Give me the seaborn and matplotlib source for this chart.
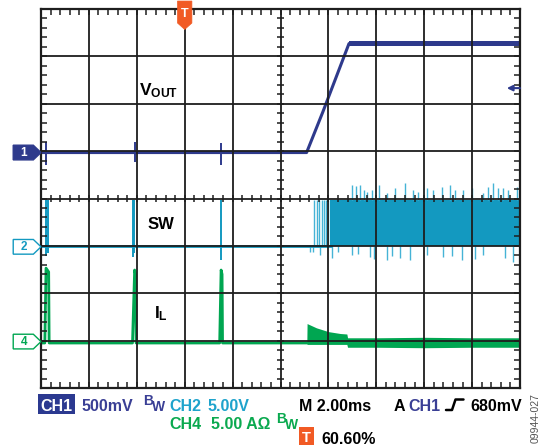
import numpy as np
import matplotlib
matplotlib.use('Agg')
import matplotlib.pyplot as plt
import seaborn as sns
from matplotlib.ticker import MultipleLocator
from matplotlib.patches import Polygon, Rectangle
from matplotlib.lines import Line2D
import matplotlib.transforms as mtrans

# ==========================================
# 1. Scope data (x in ms, y in screen divisions)
# ==========================================
# CH1 - VOUT
vout_t = [0, 11.09, 11.77, 12.86, 20]
vout_v = [4.97, 4.97, 5.83, 7.27, 7.27]
vout_band_t = [12.86, 20]
vout_band_hi = [7.33, 7.33]
vout_band_lo = [7.21, 7.21]
vout_spike_t = [0.20, 3.92, 7.52]
vout_spike_hi = [5.20, 5.20, 5.17]
vout_spike_lo = [4.71, 4.76, 4.71]

# CH2 - SW
sw_t = [0, 12.1]
sw_v = [2.99, 2.99]
sw_pulse_t = [0.20, 0.30, 3.84, 3.90, 7.50]
sw_pulse_hi = [3.97, 3.97, 3.97, 3.97, 3.97]
sw_pulse_lo = [2.78, 2.85, 2.76, 2.85, 2.70]
sw_sparse_t = [11.40, 11.51, 11.61, 11.73, 11.82, 11.90, 11.98]
sw_band_t = [12.07, 20]
sw_band_hi = [3.97, 3.97]
sw_band_lo = [2.99, 2.99]
sw_up_t = [12.98, 13.16, 13.32, 13.48, 13.62, 13.82, 14.12, 14.44, 14.78, 15.20, 15.54, 15.74, 16.12,
           16.36, 16.74, 17.08, 17.28, 17.62, 18.00, 18.46, 18.66, 18.88, 19.08, 19.30, 19.50, 19.88]
sw_up_v = [4.28, 4.26, 4.28, 4.18, 4.14, 4.18, 4.28, 4.11, 4.22, 4.32, 4.18, 4.14, 4.22,
           4.18, 4.24, 4.28, 4.18, 4.18, 4.22, 4.11, 4.24, 4.32, 4.22, 4.22, 4.18, 4.24]
sw_dn_t = [11.23, 11.36, 11.65, 12.15, 12.40, 12.98, 13.24, 13.74, 13.90, 14.44, 14.66, 14.98, 15.40,
           16.12, 16.78, 17.16, 17.58, 18.12, 18.46, 19.38, 19.70]
sw_dn_v = [2.87, 2.87, 2.81, 2.74, 2.87, 2.81, 2.83, 2.76, 2.72, 2.70, 2.78, 2.74, 2.70,
           2.81, 2.76, 2.78, 2.70, 2.72, 2.81, 2.74, 2.66]

# CH4 - IL
il_t = [0, 0.16, 0.21, 0.32, 0.34, 3.82, 3.91, 3.95, 3.97, 7.46, 7.52, 7.56, 7.58, 11.10]
il_v = [0.95, 0.95, 2.53, 2.45, 0.95, 0.95, 2.49, 2.40, 0.95, 0.95, 2.49, 2.40, 0.95, 0.95]
il_band_t = [11.10, 11.11, 11.50, 12.00, 12.50, 12.77, 12.80, 14.0, 16.0, 18.0, 20.0]
il_band_hi = [0.97, 1.36, 1.27, 1.19, 1.15, 1.14, 1.06, 1.06, 1.07, 1.06, 1.06]
il_band_lo = [0.92, 0.92, 0.92, 0.92, 0.92, 0.92, 0.86, 0.86, 0.85, 0.86, 0.86]

TRIG_T = 6.0
TRIG_LEVEL = 6.33
GND = {'1': 4.97, '2': 2.98, '4': 0.98}

C_BLUE = '#2e3a8c'
C_CYAN = '#1399c0'
C_CYAN_LT = '#45b3d6'
C_GREEN = '#00a651'
C_ORANGE = '#f15a24'
C_GRID = '#1e1e1e'

# ==========================================
# 2. Figure
# ==========================================
sns.set_theme(style='white')
plt.rcParams['font.family'] = ['Liberation Sans', 'DejaVu Sans']
plt.rcParams['mathtext.fontset'] = 'custom'
plt.rcParams['mathtext.bf'] = 'Liberation Sans:bold'
plt.rcParams['mathtext.rm'] = 'Liberation Sans'

W, H = 542, 446
fig = plt.figure(figsize=(W / 100, H / 100), dpi=100)
fig.patch.set_facecolor('white')
ax = fig.add_axes([41 / W, 58 / H, 479 / W, 379 / H])

def fp(x, y):
    # pixel position -> figure fraction
    return x / W, 1 - y / H

# traces
sns.lineplot(x=vout_t, y=vout_v, ax=ax, color=C_BLUE, lw=2.2, sort=False, estimator=None)
ax.fill_between(vout_band_t, vout_band_lo, vout_band_hi, color=C_BLUE, lw=0)
ax.vlines(vout_spike_t, vout_spike_lo, vout_spike_hi, color=C_BLUE, lw=1.4)

ax.vlines(sw_pulse_t, sw_pulse_lo, sw_pulse_hi, color=C_CYAN, lw=1.4)
ax.vlines(sw_sparse_t, sw_v[0], sw_band_hi[0], color=C_CYAN_LT, lw=1.0)
ax.fill_between(sw_band_t, sw_band_lo, sw_band_hi, color=C_CYAN, lw=0)
ax.vlines(sw_up_t, sw_band_hi[0], sw_up_v, color=C_CYAN_LT, lw=1.0)
ax.vlines(sw_dn_t, sw_dn_v, sw_band_lo[0], color=C_CYAN_LT, lw=1.0)
sns.lineplot(x=sw_t, y=sw_v, ax=ax, color=C_CYAN, lw=2.0, sort=False, estimator=None)

ax.fill_between(il_band_t, il_band_lo, il_band_hi, color=C_GREEN, lw=0)
sns.lineplot(x=il_t, y=il_v, ax=ax, color=C_GREEN, lw=2.0, sort=False, estimator=None)

# graticule
ax.set_xlim(0, 20)
ax.set_ylim(0, 8)
ax.xaxis.set_major_locator(MultipleLocator(2))
ax.xaxis.set_minor_locator(MultipleLocator(0.4))
ax.yaxis.set_major_locator(MultipleLocator(1))
ax.yaxis.set_minor_locator(MultipleLocator(0.2))
ax.set_axisbelow(False)
ax.grid(True, which='major', color=C_GRID, lw=1.3)
ax.tick_params(which='both', direction='in', length=4, width=1.1, color=C_GRID,
               top=True, right=True, bottom=True, left=True,
               labelbottom=False, labelleft=False, labeltop=False, labelright=False)
ax.set_xlabel('')
ax.set_ylabel('')
for s in ax.spines.values():
    s.set_color(C_GRID)
    s.set_linewidth(1.6)

# center cross ticks
xt = np.arange(0.4, 20, 0.4)
yt = np.arange(0.2, 8, 0.2)
ax.vlines(xt, 4 - 0.065, 4 + 0.065, color=C_GRID, lw=1.1, zorder=3)
ax.hlines(yt, 10 - 0.13, 10 + 0.13, color=C_GRID, lw=1.1, zorder=3)

# trace labels
ax.text(4.1, 6.27, r'$\mathbf{V_{OUT}}$', fontsize=12.5, color='black', ha='left', va='center')
ax.text(4.45, 3.46, 'SW', fontsize=12, fontweight='bold', color='black', ha='left', va='center')
ax.text(4.72, 1.56, r'$\mathbf{I_{L}}$', fontsize=12.5, color='black', ha='left', va='center')

# trigger level arrow
ax.annotate('', xy=(19.45, TRIG_LEVEL), xytext=(20.0, TRIG_LEVEL),
            arrowprops=dict(arrowstyle='-|>', color=C_BLUE, lw=1.5, mutation_scale=8,
                            shrinkA=0, shrinkB=0), annotation_clip=False)

# channel markers
bt = mtrans.blended_transform_factory(ax.transAxes, ax.transData)
for ch, face, edge, tc in [('1', C_BLUE, C_BLUE, 'white'),
                           ('2', 'white', C_CYAN, C_CYAN),
                           ('4', 'white', C_GREEN, C_GREEN)]:
    y = GND[ch]
    pts = [(-0.058, y - 0.155), (-0.016, y - 0.155), (0.0, y),
           (-0.016, y + 0.155), (-0.058, y + 0.155)]
    ax.add_patch(Polygon(pts, closed=True, fc=face, ec=edge, lw=1.0,
                         transform=bt, clip_on=False, zorder=5))
    ax.text(-0.036, y, ch, transform=bt, ha='center', va='center', fontsize=8.5,
            fontweight='bold', color=tc, zorder=6)

# trigger position marker
tt = mtrans.blended_transform_factory(ax.transData, ax.transAxes)
tpts = [(TRIG_T - 0.3, 1.021), (TRIG_T + 0.3, 1.021), (TRIG_T + 0.3, 0.963),
        (TRIG_T, 0.946), (TRIG_T - 0.3, 0.963)]
ax.add_patch(Polygon(tpts, closed=True, fc=C_ORANGE, ec=C_ORANGE, lw=0.5,
                     transform=tt, clip_on=False, zorder=6))
ax.text(TRIG_T, 0.986, 'T', transform=tt, ha='center', va='center', fontsize=9,
        fontweight='bold', color='white', zorder=7)

# ==========================================
# 3. Readout text under the screen
# ==========================================
FS = 11.5
C_T1 = '#3a3f95'
C_T2 = '#1ea3cc'
C_T4 = '#0aa94f'

fig.patches.append(Rectangle(fp(37.5, 414), 37 / W, 20 / H, transform=fig.transFigure,
                             fc='#2b3990', ec='none'))
fig.text(*fp(56, 411), 'CH1', fontsize=FS, fontweight='bold', color='white', ha='center', va='baseline')
fig.text(*fp(82, 411), '500mV', fontsize=FS, fontweight='bold', color=C_T1, va='baseline')
fig.text(*fp(143, 405), 'B', fontsize=10, fontweight='bold', color=C_T1, va='baseline')
fig.text(*fp(152, 411), 'W', fontsize=10, fontweight='bold', color=C_T1, va='baseline')
fig.text(*fp(169, 411), 'CH2', fontsize=FS, fontweight='bold', color=C_T2, va='baseline')
fig.text(*fp(208, 411), '5.00V', fontsize=FS, fontweight='bold', color=C_T2, va='baseline')
fig.text(*fp(299, 411), 'M 2.00ms', fontsize=FS, fontweight='bold', color='black', va='baseline')
fig.text(*fp(394, 411), 'A', fontsize=FS, fontweight='bold', color='black', va='baseline')
fig.text(*fp(408, 411), 'CH1', fontsize=FS, fontweight='bold', color=C_T1, va='baseline')
ex, ey = zip(*[fp(446, 410), fp(452, 410), fp(455.5, 399.5), fp(463.5, 399.5)])
fig.lines.append(Line2D(ex, ey, transform=fig.transFigure, color='black', lw=1.8))
fig.text(*fp(470, 411), '680mV', fontsize=FS, fontweight='bold', color='black', va='baseline')

fig.text(*fp(169, 429), 'CH4', fontsize=FS, fontweight='bold', color=C_T4, va='baseline')
fig.text(*fp(211, 429), '5.00 A\u03a9', fontsize=FS, fontweight='bold', color=C_T4, va='baseline')
fig.text(*fp(276, 423), 'B', fontsize=10, fontweight='bold', color=C_T4, va='baseline')
fig.text(*fp(284.5, 429), 'W', fontsize=10, fontweight='bold', color=C_T4, va='baseline')

fig.patches.append(Rectangle(fp(299, 445), 15 / W, 18 / H, transform=fig.transFigure,
                             fc=C_ORANGE, ec='none'))
fig.text(*fp(306.5, 442), 'T', fontsize=10.5, fontweight='bold', color='white', ha='center', va='baseline')
fig.text(*fp(321, 444.5), '60.60%', fontsize=FS, fontweight='bold', color='black', va='baseline')

fig.text(*fp(536, 418), '09944-027', fontsize=7.5, color='#555555', rotation=90,
         ha='center', va='center')

fig.savefig('out.png', dpi=100, facecolor='white')
